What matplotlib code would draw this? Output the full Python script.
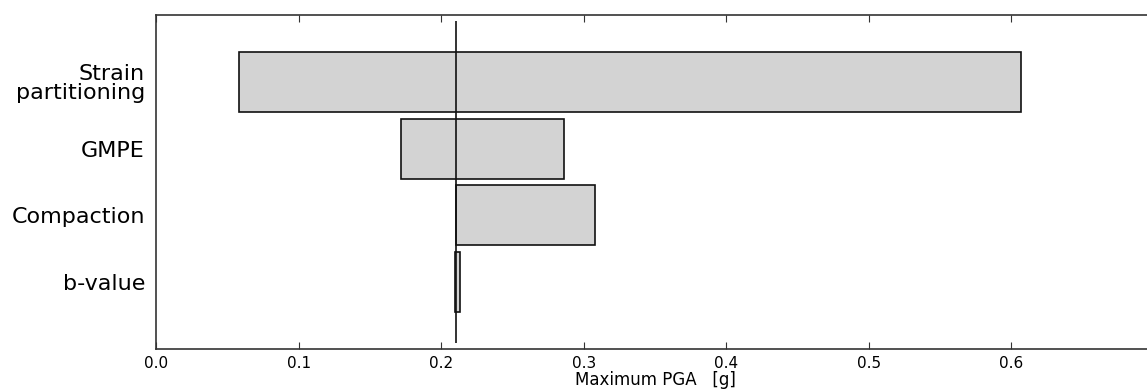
import matplotlib
matplotlib.use("Agg")
import matplotlib.pyplot as plt

categories = ["b-value", "Compaction", "GMPE", "Strain\npartitioning"]
low_values = [0.2098, 0.2105, 0.1717, 0.0585]
high_values = [0.2133, 0.3076, 0.2861, 0.6070]
base_value = 0.2105
xticks = [0.0, 0.1, 0.2, 0.3, 0.4, 0.5, 0.6]

fig = plt.figure(figsize=(11.47, 3.90), dpi=100)
ax = fig.add_axes([156 / 1147, (390 - 349) / 390, (1154 - 156) / 1147, (349 - 15) / 390])

ypos = list(range(len(categories)))
widths = [h - l for l, h in zip(low_values, high_values)]
ax.barh(ypos, widths, left=low_values, height=0.9, color="#d3d3d3",
        edgecolor="#111111", linewidth=1.2, zorder=2)
ax.vlines(base_value, -0.91, 3.91, color="#111111", linewidth=1.2, zorder=3)

ax.set_ylim(-1, 4)
ax.set_xlim(0, 0.7)
ax.set_yticks(ypos)
ax.set_yticklabels(categories, fontsize=16, linespacing=0.95)
ax.set_xticks(xticks)
ax.set_xticklabels([f"{t:.1f}" for t in xticks], fontsize=11)
ax.tick_params(axis="y", length=0, pad=8)
ax.tick_params(axis="x", direction="in", length=5, width=0.8, top=True, pad=5,
               color="#333333")
ax.set_xlabel("Maximum PGA   [g]", fontsize=12, labelpad=0)
for s in ax.spines.values():
    s.set_linewidth(1.2)
    s.set_color("#333333")
ax.spines["right"].set_visible(False)

fig.savefig("out.png", dpi=100)
